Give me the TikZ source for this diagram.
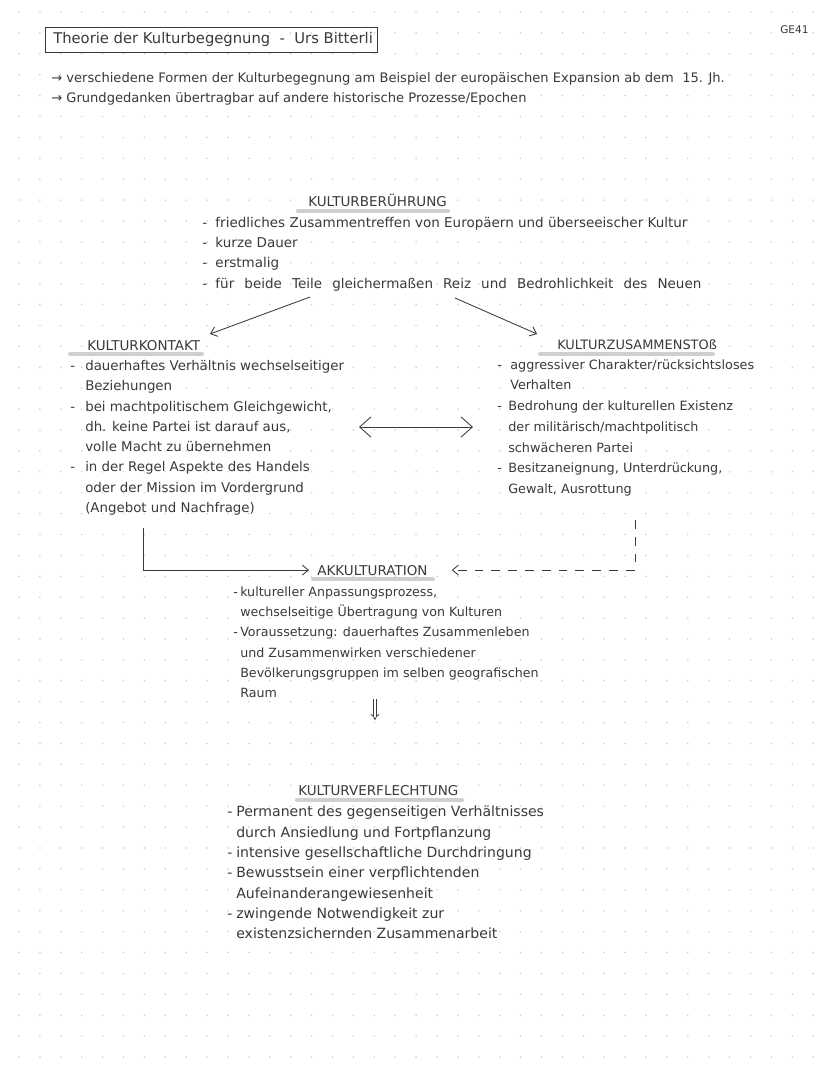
\documentclass[tikz,border=0pt]{standalone}
\usepackage{fontspec}
\setmainfont{DejaVu Sans}
\usetikzlibrary{positioning, arrows.meta}
\definecolor{ink}{HTML}{3A3A3A}
\definecolor{hlgray}{HTML}{CFCFCF}
\definecolor{dotgray}{HTML}{CDCDCD}
\tikzset{
  txt/.style={anchor=base west, inner sep=0pt, text=ink},
  head/.style={txt, font=\fontsize{9.6}{11}\selectfont},
  hl/.style={hlgray, line width=0.1cm, line cap=round},
  con/.style={ink, line width=0.6pt},
  barb/.style={-{Straight Barb[length=0.15cm,width=0.25cm]}}}
\newcommand{\dsh}[1]{\makebox[#1][l]{-}}

\begin{document}
\begin{tikzpicture}[x=0.025cm, y=-0.025cm]
  \fill[white] (0,0) rectangle (828,1069);
  \useasboundingbox (0,0) rectangle (828,1069);
  \foreach \i in {0,...,38} {\foreach \j in {0,...,50} {
    \fill[dotgray] (19+20.9*\i, 12+20.9*\j) circle (0.022cm);}}

  \coordinate (tl) at (45,27); \coordinate (br) at (377,52);
  \draw[con] (tl) rectangle (br);
  \node[txt, font=\fontsize{10.5}{12}\selectfont] (title) at (53,44) {Theorie der Kulturbegegnung\ \ -\ \ Urs Bitterli};
  \node[txt, font=\fontsize{7.5}{9}\selectfont] (ge) at (780,34) {GE41};
  \node[txt, font=\fontsize{9.3}{11}\selectfont] (intro1) at (51,83) {→\ verschiedene Formen der Kulturbegegnung am Beispiel der europäischen Expansion ab dem\ \ 15. Jh.};
  \node[txt, font=\fontsize{9.3}{11}\selectfont] (intro2) at (51,103) {→\ Grundgedanken übertragbar auf andere historische Prozesse/Epochen};

  \draw[hl] (298,211) -- (448,211);
  \node[head] (ber) at (308,207) {KULTURBERÜHRUNG};
    \begin{scope}[every node/.style={txt, font=\fontsize{9.6}{11}\selectfont}]
    \node (b1) at (202,228) {\dsh{0.33cm}friedliches Zusammentreffen von Europäern und überseeischer Kultur};
    \node (b2) at (202,248) {\dsh{0.33cm}kurze Dauer};
    \node (b3) at (202,268) {\dsh{0.33cm}erstmalig};
    \node (b4) at (202,288) {\dsh{0.33cm}\spaceskip=0.75em für beide Teile gleichermaßen Reiz und Bedrohlichkeit des Neuen};
    \end{scope}
  \coordinate (pA) at (310,297); \coordinate (kA) at (210,334);
  \coordinate (pB) at (455,298); \coordinate (kB) at (537,334);
  \draw[con, barb] (pA) -- (kA);
  \draw[con, barb] (pB) -- (kB);

  \draw[hl] (70,354) -- (202,354);
  \node[head] (kon) at (87,350) {KULTURKONTAKT};
    \begin{scope}[every node/.style={txt, font=\fontsize{9.5}{11}\selectfont}]
    \node (k1) at (70,370) {\dsh{0.375cm}dauerhaftes Verhältnis wechselseitiger};
    \node (k2) at (85,390) {Beziehungen};
    \node (k3) at (70,411) {\dsh{0.375cm}bei machtpolitischem Gleichgewicht,};
    \node (k4) at (85,431) {dh. keine Partei ist darauf aus,};
    \node (k5) at (85,451) {volle Macht zu übernehmen};
    \node (k6) at (70,471) {\dsh{0.375cm}in der Regel Aspekte des Handels};
    \node (k7) at (85,492) {oder der Mission im Vordergrund};
    \node (k8) at (85,512) {(Angebot und Nachfrage)};
    \end{scope}

  \coordinate (dl) at (359,427); \coordinate (dr) at (473,427);
  \draw[con, {Straight Barb[length=0.28cm,width=0.5cm]}-{Straight Barb[length=0.28cm,width=0.5cm]}] (dl) -- (dr);

  \draw[hl] (540,354) -- (713,354);
  \node[head, font=\fontsize{9.2}{11}\selectfont] (sto) at (557,349) {KULTURZUSAMMENSTOß};
    \begin{scope}[every node/.style={txt, font=\fontsize{9.1}{11}\selectfont}]
    \node (z1) at (497,369) {\dsh{0.325cm}aggressiver Charakter/rücksichtsloses};
    \node (z2) at (510,389) {Verhalten};
    \node (z3) at (497,410) {\dsh{0.275cm}Bedrohung der kulturellen Existenz};
    \node (z4) at (508,431) {der militärisch/machtpolitisch};
    \node (z5) at (508,452) {schwächeren Partei};
    \node (z6) at (497,472) {\dsh{0.275cm}Besitzaneignung, Unterdrückung,};
    \node (z7) at (508,493) {Gewalt, Ausrottung};
    \end{scope}

  \draw[hl] (313,579) -- (433,579);
  \node[head] (akk) at (317,575) {AKKULTURATION};
  \coordinate (s0) at (143,528);
  \coordinate (q0) at (635,520);
  \draw[con, barb, shorten >=0.2cm] (s0) |- (akk.west);
  \draw[con, barb, shorten >=0.6cm, dash pattern=on 0.22cm off 0.2cm] (q0) |- (akk.east);
    \begin{scope}[every node/.style={txt, font=\fontsize{9}{11}\selectfont}]
    \node (a1) at (233,596) {\dsh{0.175cm}kultureller Anpassungsprozess,};
    \node (a2) at (240,616) {wechselseitige Übertragung von Kulturen};
    \node (a3) at (233,636) {\dsh{0.175cm}Voraussetzung: dauerhaftes Zusammenleben};
    \node (a4) at (240,657) {und Zusammenwirken verschiedener};
    \node (a5) at (240,677) {Bevölkerungsgruppen im selben geografischen};
    \node (a6) at (240,697) {Raum};
    \end{scope}
  \coordinate (u1) at (375,699); \coordinate (u2) at (375,720);
  \draw[ink, line width=0.5pt, double, double distance=0.06cm, -{Implies}] (u1) -- (u2);

  \draw[hl] (297,800) -- (462,800);
  \node[head] (ver) at (298,795) {KULTURVERFLECHTUNG};
    \begin{scope}[every node/.style={txt, font=\fontsize{10}{12}\selectfont}]
    \node (v1) at (227,816) {\dsh{0.225cm}Permanent des gegenseitigen Verhältnisses};
    \node (v2) at (236,837) {durch Ansiedlung und Fortpflanzung};
    \node (v3) at (227,857) {\dsh{0.225cm}intensive gesellschaftliche Durchdringung};
    \node (v4) at (227,877) {\dsh{0.225cm}Bewusstsein einer verpflichtenden};
    \node (v5) at (236,898) {Aufeinanderangewiesenheit};
    \node (v6) at (227,918) {\dsh{0.225cm}zwingende Notwendigkeit zur};
    \node (v7) at (236,938) {existenzsichernden Zusammenarbeit};
    \end{scope}
\end{tikzpicture}
\end{document}
